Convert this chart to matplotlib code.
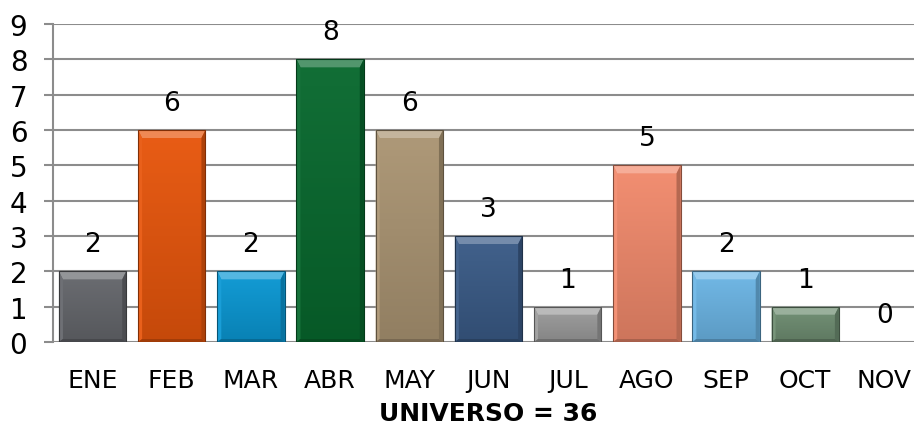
import numpy as np
import matplotlib
matplotlib.use("Agg")
from matplotlib import pyplot as plt
from matplotlib.colors import to_rgb
from matplotlib.patches import Polygon

meses = ["ENE", "FEB", "MAR", "ABR", "MAY", "JUN", "JUL", "AGO", "SEP", "OCT", "NOV"]
casos = [2, 6, 2, 8, 6, 3, 1, 5, 2, 1, 0]
colores = ["#65676c", "#e8560c", "#0a98d4", "#08692e", "#ab9573", "#3a5b87",
           "#9c9c9c", "#f28a6c", "#6cb6e6", "#6f8e72", "#cccccc"]
titulo = "UNIVERSO = 36"

plt.rcParams['font.family'] = ['DejaVu Sans']

def mezcla(c, otro, t):
    c = np.array(to_rgb(c))
    return tuple(c * (1 - t) + np.array(otro) * t)

fig = plt.figure(figsize=(9.14, 4.31), dpi=100)
ax = fig.add_axes([53 / 914, 88 / 431, 871 / 914, 318 / 431])

x = np.arange(len(meses))
barras = ax.bar(x, casos, width=0.85, color=colores, zorder=3,
                edgecolor="none")

ax.set_xlim(-0.5, len(meses) - 0.5)
ax.set_ylim(0, 9)
ax.set_yticks(range(0, 10))
ax.grid(axis="y", color="#8c8c8c", linewidth=1.5, zorder=0)
ax.set_axisbelow(True)
for s in ["top", "right", "bottom"]:
    ax.spines[s].set_visible(False)
ax.spines["left"].set_color("#8c8c8c")
ax.spines["left"].set_linewidth(1.5)
ax.tick_params(axis="y", length=6.5, width=1.5, color="#8c8c8c",
               labelsize=20, pad=12)
ax.tick_params(axis="x", length=0, labelsize=18, pad=19)
ax.set_xticks(x)
ax.set_xticklabels(meses)
ax.set_xlabel(titulo, fontsize=18, fontweight="bold", labelpad=6)

# pixel -> data sizes for the bevel
p0 = ax.transData.transform((0, 0))
p1 = ax.transData.transform((1, 1))
px_x = 1.0 / (p1[0] - p0[0])
px_y = 1.0 / (p1[1] - p0[1])
bt = 8 * px_y
bs = 4 * px_x
bb = 3 * px_y

for b, c, v in zip(barras, colores, casos):
    if v == 0:
        b.set_visible(False)
        continue
    x0 = b.get_x()
    x1 = x0 + b.get_width()
    top = b.get_height()
    # vertical gradient
    grad = np.linspace(0, 1, 64).reshape(-1, 1)
    claro = np.array(mezcla(c, (1, 1, 1), 0.04))
    oscuro = np.array(mezcla(c, (0, 0, 0), 0.15))
    img = claro * (1 - grad[..., None]) + oscuro * grad[..., None]
    im = ax.imshow(img, extent=(x0, x1, 0, top), origin="upper",
                   aspect="auto", zorder=3.1)
    im.set_clip_path(b)
    ax.add_patch(Polygon([(x0, top), (x1, top), (x1 - bs, top - bt),
                          (x0 + bs, top - bt)], closed=True,
                         facecolor=mezcla(c, (1, 1, 1), 0.3),
                         edgecolor="none", zorder=3.2))
    ax.add_patch(Polygon([(x0, top), (x0 + bs, top - bt), (x0 + bs, bb),
                          (x0, 0)], closed=True,
                         facecolor=mezcla(c, (1, 1, 1), 0.06),
                         edgecolor="none", zorder=3.2))
    ax.add_patch(Polygon([(x1, top), (x1 - bs, top - bt), (x1 - bs, bb),
                          (x1, 0)], closed=True,
                         facecolor=mezcla(c, (0, 0, 0), 0.25),
                         edgecolor="none", zorder=3.2))
    ax.add_patch(Polygon([(x0, 0), (x0 + bs, bb), (x1 - bs, bb), (x1, 0)],
                         closed=True, facecolor=mezcla(c, (0, 0, 0), 0.3),
                         edgecolor="none", zorder=3.2))
    ax.add_patch(Polygon([(x0, 0), (x0, top), (x1, top), (x1, 0)],
                         closed=True, facecolor="none",
                         edgecolor=mezcla(c, (0, 0, 0), 0.45),
                         linewidth=0.8, zorder=3.3))

for xi, v in zip(x, casos):
    ax.annotate(str(v), (xi, v), xytext=(0, 10), textcoords="offset points",
                ha="center", va="bottom", fontsize=19)

ax.set_xlim(-0.5, len(meses) - 0.5)
ax.set_ylim(0, 9)

fig.savefig("out.png", dpi=100)
